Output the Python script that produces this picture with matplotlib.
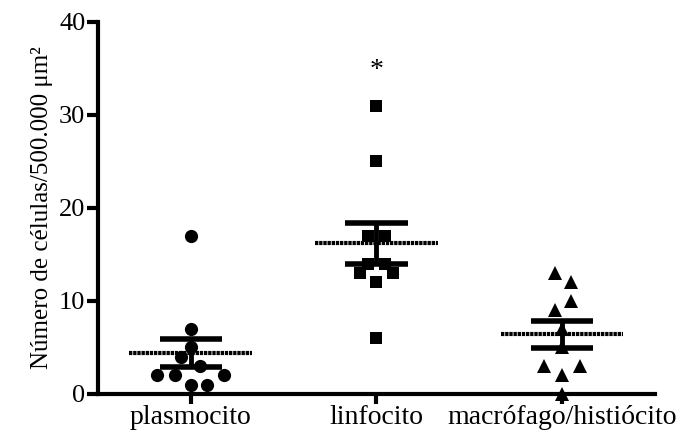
import matplotlib
matplotlib.use("Agg")
import matplotlib.pyplot as plt
import numpy as np

categories = ["plasmocito", "linfocito", "macrófago/histiócito"]
plasmocito = [17, 7, 5, 4, 3, 2, 2, 2, 1, 1]
linfocito = [31, 25, 17, 17, 14, 14, 13, 13, 12, 6]
macrofago = [13, 12, 10, 9, 7, 5, 3, 3, 2, 0]
yticks = [0, 10, 20, 30, 40]
ylabel = "Número de células/500.000 μm\u00b2"
annotation = "*"

# horizontal scatter offsets (layout only)
offs_plas = [0, 0, 0, -0.05, 0.05, -0.18, -0.085, 0.18, 0, 0.09]
offs_linf = [0, 0, -0.045, 0.045, -0.045, 0.045, -0.088, 0.088, 0, 0]
offs_macr = [-0.04, 0.05, 0.05, -0.04, 0, 0, -0.095, 0.095, 0, 0]

plt.rcParams['font.family'] = ['Liberation Serif', 'DejaVu Serif']

fig = plt.figure(figsize=(6.8, 4.37), dpi=100)
ax = fig.add_axes([0.144, 0.0984, 0.963 - 0.144, 0.9497 - 0.0984])

groups = [plasmocito, linfocito, macrofago]
offsets = [offs_plas, offs_linf, offs_macr]
markers = ['o', 's', '^']
msizes = [9.5, 8.5, 10]

for i, (vals, offs, m, ms) in enumerate(zip(groups, offsets, markers, msizes)):
    vals = np.array(vals, dtype=float)
    xs = i + np.array(offs)
    ax.plot(xs, vals, linestyle='none', marker=m, markersize=ms, color='black',
            markeredgewidth=0, clip_on=False, zorder=3)
    mean = vals.mean()
    sem = vals.std(ddof=1) / np.sqrt(len(vals))
    ax.plot([i - 0.33, i + 0.33], [mean, mean], color='black', lw=3,
            dashes=(0.8, 0.2), zorder=4, solid_capstyle='butt', dash_capstyle='butt')
    ax.plot([i, i], [mean - sem, mean + sem], color='black', lw=3.5, zorder=4,
            solid_capstyle='butt')
    for y in (mean - sem, mean + sem):
        ax.plot([i - 0.168, i + 0.168], [y, y], color='black', lw=4, zorder=4,
                solid_capstyle='butt')

ax.text(1, 34.8, annotation, ha='center', va='center', fontsize=20, color='black')

ax.set_xlim(-0.5, 2.5)
ax.set_ylim(0, 40)
ax.set_yticks(yticks)
ax.set_xticks(range(len(categories)))
ax.set_xticklabels(categories, fontsize=20)
ax.tick_params(axis='y', labelsize=19, width=3, length=8, direction='out', pad=1)
ax.tick_params(axis='x', width=3, length=7, direction='out', pad=1)
for s in ['top', 'right']:
    ax.spines[s].set_visible(False)
for s in ['left', 'bottom']:
    ax.spines[s].set_linewidth(3)
ax.set_ylabel(ylabel, fontsize=18, labelpad=4)

fig.savefig("out.png", dpi=100)
